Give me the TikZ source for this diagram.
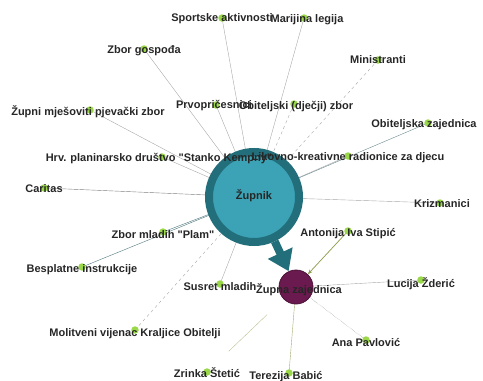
\documentclass[tikz,border=0pt]{standalone}
\usepackage{fontspec}
\setmainfont{Liberation Sans}
\usetikzlibrary{arrows.meta,backgrounds}
\definecolor{prsten}{HTML}{236E7B}
\definecolor{unutra}{HTML}{3BA3B5}
\definecolor{ljubica}{HTML}{6B1A4F}
\definecolor{zelena}{HTML}{9AD84A}
\definecolor{rub}{HTML}{A8A8A8}
\definecolor{maslina}{HTML}{8C9A4A}
\tikzset{
  tocka/.style={circle,fill=zelena,inner sep=0pt,minimum size=7.5pt},
  natpis/.style={font=\fontsize{11}{13}\selectfont\bfseries,text=black!85,inner sep=0pt},
  veza/.style={draw=rub,line width=0.4pt},
}
\begin{document}
\begin{tikzpicture}[x=1pt,y=-1pt]
        \useasboundingbox (0,0) rectangle (483,381);
        %disegno centralni cvorovi
        \node[circle,fill=unutra,draw=prsten,line width=8pt,minimum size=90pt] (zupnik) at (254,197) {};
        \node[circle,fill=ljubica,draw=ljubica!70!black,line width=0.8pt,minimum size=34pt] (zupna) at (296,287) {};
        %disegno zelene tocke
        \node[tocka] (sport) at (222,18) {};
        \node[tocka] (legija) at (304,18) {};
        \node[tocka] (gospoda) at (144,49) {};
        \node[tocka] (ministranti) at (378,60) {};
        \node[tocka] (pjevacki) at (90,110) {};
        \node[tocka] (pricest) at (216,105) {};
        \node[tocka] (djecji) at (294,104) {};
        \node[tocka] (obitelj) at (428,123) {};
        \node[tocka] (planinari) at (162,157) {};
        \node[tocka] (likovno) at (348,156) {};
        \node[tocka] (caritas) at (44,188) {};
        \node[tocka] (krizmanici) at (440,203) {};
        \node[tocka] (plam) at (163,232) {};
        \node[tocka] (antonija) at (348,231) {};
        \node[tocka] (instrukcije) at (82,267) {};
        \node[tocka] (susret) at (220,284) {};
        \node[tocka] (lucija) at (421,280) {};
        \node[tocka] (molitveni) at (135,330) {};
        \node[tocka] (ana) at (366,340) {};
        \node[tocka] (zrinka) at (207,372) {};
        \node[tocka] (terezija) at (289,373) {};
        %disegno veze (ispod cvorova)
        \begin{scope}[on background layer]
        \foreach \a in {sport,legija,gospoda,pjevacki,pricest,planinari,likovno,krizmanici,susret}
            \draw[veza] (\a.center) -- (zupnik.center);
        \draw[veza,dashed] (ministranti.center) -- (zupnik.center);
        \draw[veza,dashed] (djecji.center) -- (zupnik.center);
        \draw[veza,dashed] (molitveni.center) -- (zupnik.center);
        \draw[veza,draw=gray!70!unutra] (obitelj.center) -- (zupnik.center);
        \draw[veza,draw=gray] (caritas.center) -- (zupnik.center);
        \draw[veza,draw=prsten!60!gray] (plam.center) -- (zupnik.center);
        \draw[veza,draw=prsten!50!gray] (instrukcije.center) -- (zupnik.center);
        \draw[veza,draw=maslina,line width=0.7pt,-{Stealth[length=5pt]}] (antonija.center) -- (zupna);
        \draw[veza] (lucija.center) -- (zupna.center);
        \draw[veza,densely dotted,draw=gray] (ana.center) -- (zupna.center);
        \draw[veza,draw=maslina!80] (terezija.center) -- (zupna.center);
        \draw[veza,draw=maslina!60,shorten <=30pt,shorten >=40pt] (zrinka.center) -- (zupna.center);
        \end{scope}
        %disegno strelica Zupnik -> Zupna zajednica
        \draw[prsten,line width=8pt,-{Triangle[width=26pt,length=20pt]}] (zupnik) -- (zupna);
        %disegno natpisi
        \node[natpis] at ([yshift=-1pt]sport) {Sportske aktivnosti};
        \node[natpis] at ([xshift=3pt,yshift=-2pt]legija) {Marijina legija};
        \node[natpis] at ([yshift=-2pt]gospoda) {Zbor gospođa};
        \node[natpis] at (ministranti) {Ministranti};
        \node[natpis] at ([xshift=-2pt,yshift=-2pt]pjevacki) {Župni mješoviti pjevački zbor};
        \node[natpis] at ([xshift=-2pt,yshift=-1pt]pricest) {Prvopričesnici};
        \node[natpis] at ([xshift=2pt,yshift=-3pt]djecji) {Obiteljski (dječji) zbor};
        \node[natpis] at ([xshift=-4pt,yshift=-2pt]obitelj) {Obiteljska zajednica};
        \node[natpis] at ([xshift=-3pt,yshift=-2pt]planinari) {Hrv. planinarsko društvo \textquotedbl Stanko Kempny\textquotedbl};
        \node[natpis] at ([yshift=-2pt]likovno) {Likovno-kreativne radionice za djecu};
        \node[natpis] at ([yshift=-1pt]caritas) {Caritas};
        \node[natpis] at ([xshift=2pt,yshift=-1pt]krizmanici) {Krizmanici};
        \node[natpis] at ([yshift=-3pt]plam) {Zbor mladih \textquotedbl Plam\textquotedbl};
        \node[natpis] at ([yshift=-3pt]antonija) {Antonija Iva Stipić};
        \node[natpis] at ([yshift=-3pt]instrukcije) {Besplatne instrukcije};
        \node[natpis] at ([yshift=-3pt]susret) {Susret mladih};
        \node[natpis] at ([yshift=-4pt]lucija) {Lucija Žderić};
        \node[natpis] at ([yshift=-4pt]molitveni) {Molitveni vijenac Kraljice Obitelji};
        \node[natpis] at ([yshift=-3pt]ana) {Ana Pavlović};
        \node[natpis] at ([yshift=-1pt]zrinka) {Zrinka Štetić};
        \node[natpis] at ([xshift=-3pt,yshift=-4pt]terezija) {Terezija Babić};
        \node[natpis] at ([yshift=1pt]zupnik) {Župnik};
        \node[natpis] at ([xshift=3pt,yshift=-3pt]zupna) {Župna zajednica};
\end{tikzpicture}
\end{document}
